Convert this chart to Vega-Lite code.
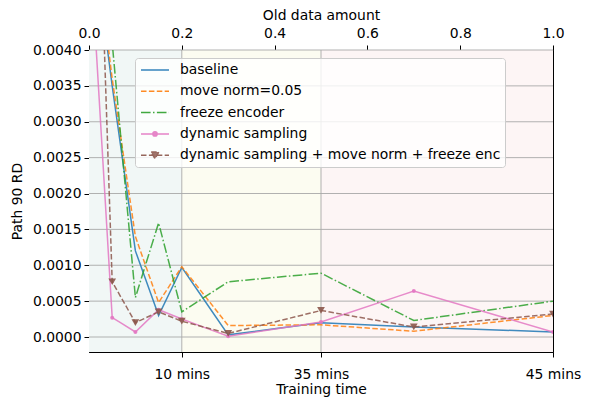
{
  "$schema": "https://vega.github.io/schema/vega-lite/v6.json",
  "width": 464,
  "height": 302,
  "autosize": {"type": "none"},
  "padding": {"left": 89, "top": 50, "right": 37, "bottom": 53},
  "config": {
    "font": "DejaVu Sans",
    "view": {"stroke": "black", "strokeWidth": 1},
    "axis": {
      "grid": false,
      "labelFont": "DejaVu Sans",
      "titleFont": "DejaVu Sans",
      "labelFontSize": 13.9,
      "titleFontSize": 13.9,
      "titleFontWeight": "normal",
      "labelColor": "black",
      "titleColor": "black",
      "tickColor": "black",
      "domainColor": "black",
      "tickSize": 5,
      "tickWidth": 1,
      "domainWidth": 1
    }
  },
  "datasets": {
    "series": [
      {"s": "baseline", "x": 0, "v": 0.0060},
      {"s": "baseline", "x": 0.05, "v": 0.0035},
      {"s": "baseline", "x": 0.1, "v": 0.0012},
      {"s": "baseline", "x": 0.15, "v": 0.0003},
      {"s": "baseline", "x": 0.2, "v": 0.00097},
      {"s": "baseline", "x": 0.3, "v": 0.00003},
      {"s": "baseline", "x": 0.5, "v": 0.0002},
      {"s": "baseline", "x": 0.7, "v": 0.00014},
      {"s": "baseline", "x": 1.0, "v": 0.00007},
      {"s": "move norm=0.05", "x": 0, "v": 0.0062},
      {"s": "move norm=0.05", "x": 0.05, "v": 0.0036},
      {"s": "move norm=0.05", "x": 0.1, "v": 0.0014},
      {"s": "move norm=0.05", "x": 0.15, "v": 0.00048},
      {"s": "move norm=0.05", "x": 0.2, "v": 0.00098},
      {"s": "move norm=0.05", "x": 0.3, "v": 0.00016},
      {"s": "move norm=0.05", "x": 0.5, "v": 0.00017},
      {"s": "move norm=0.05", "x": 0.7, "v": 0.00008},
      {"s": "move norm=0.05", "x": 1.0, "v": 0.0003},
      {"s": "freeze encoder", "x": 0, "v": 0.008},
      {"s": "freeze encoder", "x": 0.05, "v": 0.0041},
      {"s": "freeze encoder", "x": 0.1, "v": 0.00055},
      {"s": "freeze encoder", "x": 0.15, "v": 0.00159},
      {"s": "freeze encoder", "x": 0.2, "v": 0.00035},
      {"s": "freeze encoder", "x": 0.3, "v": 0.00077},
      {"s": "freeze encoder", "x": 0.5, "v": 0.00089},
      {"s": "freeze encoder", "x": 0.7, "v": 0.00023},
      {"s": "freeze encoder", "x": 1.0, "v": 0.0005},
      {"s": "dynamic sampling", "x": 0, "v": 0.0057},
      {"s": "dynamic sampling", "x": 0.05, "v": 0.00027},
      {"s": "dynamic sampling", "x": 0.1, "v": 0.00007},
      {"s": "dynamic sampling", "x": 0.15, "v": 0.00038},
      {"s": "dynamic sampling", "x": 0.2, "v": 0.00025},
      {"s": "dynamic sampling", "x": 0.3, "v": 0.00001},
      {"s": "dynamic sampling", "x": 0.5, "v": 0.00021},
      {"s": "dynamic sampling", "x": 0.7, "v": 0.00064},
      {"s": "dynamic sampling", "x": 1.0, "v": 0.00007},
      {"s": "dynamic sampling + move norm + freeze enc", "x": 0, "v": 0.0104},
      {"s": "dynamic sampling + move norm + freeze enc", "x": 0.05, "v": 0.00077},
      {"s": "dynamic sampling + move norm + freeze enc", "x": 0.1, "v": 0.0002},
      {"s": "dynamic sampling + move norm + freeze enc", "x": 0.15, "v": 0.00035},
      {"s": "dynamic sampling + move norm + freeze enc", "x": 0.2, "v": 0.00022},
      {"s": "dynamic sampling + move norm + freeze enc", "x": 0.3, "v": 0.00005},
      {"s": "dynamic sampling + move norm + freeze enc", "x": 0.5, "v": 0.00037},
      {"s": "dynamic sampling + move norm + freeze enc", "x": 0.7, "v": 0.00014},
      {"s": "dynamic sampling + move norm + freeze enc", "x": 1.0, "v": 0.00032}
    ],
    "bands": [
      {"x0": 0, "x1": 0.2, "band": "a"},
      {"x0": 0.2, "x1": 0.5, "band": "b"},
      {"x0": 0.5, "x1": 1.0, "band": "c"}
    ],
    "gridy": [
      {"gy": 0}, {"gy": 0.0005}, {"gy": 0.001}, {"gy": 0.0015}, {"gy": 0.002},
      {"gy": 0.0025}, {"gy": 0.003}, {"gy": 0.0035}, {"gy": 0.004}
    ],
    "gridx": [{"gx": 0.2}, {"gx": 0.5}]
  },
  "layer": [
    {
      "data": {"name": "series"},
      "transform": [{"filter": "false"}],
      "mark": {"type": "point", "filled": true, "strokeWidth": 1.5, "opacity": 0.9},
      "encoding": {
        "shape": {
          "field": "s", "type": "nominal",
          "scale": {
            "domain": ["baseline", "move norm=0.05", "freeze encoder", "dynamic sampling", "dynamic sampling + move norm + freeze enc"],
            "range": [
              "M-2,0H2",
              "M-2,0H2",
              "M-2,0H2",
              "M-2,0H2M0.3,0A0.3,0.3,0,1,1,-0.3,0A0.3,0.3,0,1,1,0.3,0Z",
              "M-2,0H2M-0.55,-0.45H0.55L0,0.5Z"
            ]
          },
          "legend": {"title": null}
        },
        "fill": {
          "field": "s", "type": "nominal",
          "scale": {
            "domain": ["baseline", "move norm=0.05", "freeze encoder", "dynamic sampling", "dynamic sampling + move norm + freeze enc"],
            "range": ["#1f77b4", "#ff7f0e", "#2ca02c", "#e377c2", "#8c564b"]
          },
          "legend": {
            "orient": "none",
            "legendX": 46,
            "legendY": 8,
            "title": null,
            "fillColor": "rgba(255,255,255,0.8)",
            "strokeColor": "#cccccc",
            "cornerRadius": 3,
            "padding": 4,
            "labelFont": "DejaVu Sans",
            "labelFontSize": 13.9,
            "labelColor": "black",
            "labelOffset": 17,
            "labelLimit": 400,
            "symbolSize": 196,
            "symbolOffset": 8,
            "symbolStrokeWidth": 1.5,
            "symbolOpacity": 0.9,
            "rowPadding": 6.3
          }
        },
        "stroke": {
          "field": "s", "type": "nominal",
          "scale": {
            "domain": ["baseline", "move norm=0.05", "freeze encoder", "dynamic sampling", "dynamic sampling + move norm + freeze enc"],
            "range": ["#1f77b4", "#ff7f0e", "#2ca02c", "#e377c2", "#8c564b"]
          },
          "legend": {"title": null}
        },
        "strokeDash": {
          "field": "s", "type": "nominal",
          "scale": {
            "domain": ["baseline", "move norm=0.05", "freeze encoder", "dynamic sampling", "dynamic sampling + move norm + freeze enc"],
            "range": [[100, 0], [5.5, 2.4], [9.6, 2.4, 1.5, 2.4], [100, 0], [5.5, 2.4]]
          },
          "legend": {"title": null}
        }
      }
    },
    {
      "data": {"name": "bands"},
      "transform": [{"filter": "datum.band == 'a'"}],
      "mark": {"type": "rect", "color": "#f1f7f6"},
      "encoding": {
        "x": {
          "field": "x0", "type": "quantitative",
          "scale": {"domain": [0, 1], "nice": false, "zero": false},
          "axis": {
            "orient": "bottom",
            "values": [0.2, 0.5, 1],
            "labelExpr": "datum.value < 0.3 ? '10 mins' : datum.value < 0.7 ? '35 mins' : '45 mins'",
            "title": "Training time",
            "labelFlush": false,
            "labelPadding": 10,
            "titlePadding": 2
          }
        },
        "x2": {"field": "x1"}
      }
    },
    {
      "data": {"name": "bands"},
      "transform": [{"filter": "datum.band == 'b'"}],
      "mark": {"type": "rect", "color": "#fcfcf1"},
      "encoding": {
        "x": {
          "field": "x0", "type": "quantitative",
          "scale": {"domain": [0, 1], "nice": false, "zero": false},
          "axis": null
        },
        "x2": {"field": "x1"}
      }
    },
    {
      "data": {"name": "bands"},
      "transform": [{"filter": "datum.band == 'c'"}],
      "mark": {"type": "rect", "color": "#fdf5f5"},
      "encoding": {
        "x": {
          "field": "x0", "type": "quantitative",
          "scale": {"domain": [0, 1], "nice": false, "zero": false},
          "axis": null
        },
        "x2": {"field": "x1"}
      }
    },
    {
      "data": {"name": "gridy"},
      "mark": {"type": "rule", "color": "#a8a8a8", "strokeWidth": 0.9},
      "encoding": {
        "y": {
          "field": "gy", "type": "quantitative",
          "scale": {"domain": [-0.000209, 0.004], "nice": false, "zero": false},
          "axis": {
            "values": [0, 0.0005, 0.001, 0.0015, 0.002, 0.0025, 0.003, 0.0035, 0.004],
            "format": ".4f", "title": "Path 90 RD", "titlePadding": 8, "labelPadding": 3
          }
        }
      }
    },
    {
      "data": {"name": "gridx"},
      "mark": {"type": "rule", "color": "#a8a8a8", "strokeWidth": 0.9},
      "encoding": {
        "x": {
          "field": "gx", "type": "quantitative",
          "scale": {"domain": [0, 1], "nice": false, "zero": false},
          "axis": null
        }
      }
    },
    {
      "data": {"name": "series"},
      "mark": {"type": "line", "strokeWidth": 1.5, "clip": true, "opacity": 0.85},
      "encoding": {
        "x": {
          "field": "x", "type": "quantitative",
          "scale": {"domain": [0, 1], "nice": false, "zero": false},
          "axis": {
            "orient": "top",
            "values": [0, 0.2, 0.4, 0.6, 0.8, 1],
            "format": ".1f",
            "title": "Old data amount",
            "labelFlush": false,
            "labelPadding": 5,
            "titlePadding": 4
          }
        },
        "y": {
          "field": "v", "type": "quantitative",
          "scale": {"domain": [-0.000209, 0.004], "nice": false, "zero": false},
          "axis": {
            "values": [0, 0.0005, 0.001, 0.0015, 0.002, 0.0025, 0.003, 0.0035, 0.004],
            "format": ".4f", "title": "Path 90 RD", "titlePadding": 8, "labelPadding": 3
          }
        },
        "color": {
          "field": "s", "type": "nominal",
          "scale": {
            "domain": ["baseline", "move norm=0.05", "freeze encoder", "dynamic sampling", "dynamic sampling + move norm + freeze enc"],
            "range": ["#1f77b4", "#ff7f0e", "#2ca02c", "#e377c2", "#8c564b"]
          },
          "legend": null
        },
        "strokeDash": {
          "field": "s", "type": "nominal",
          "legend": null
        }
      }
    },
    {
      "data": {"name": "series"},
      "transform": [{"filter": "datum.s == 'dynamic sampling'"}],
      "mark": {"type": "point", "filled": true, "clip": true, "opacity": 0.9, "shape": "circle", "size": 16},
      "encoding": {
        "x": {
          "field": "x", "type": "quantitative",
          "scale": {"domain": [0, 1], "nice": false, "zero": false},
          "axis": null
        },
        "y": {
          "field": "v", "type": "quantitative",
          "scale": {"domain": [-0.000209, 0.004], "nice": false, "zero": false},
          "axis": {
            "values": [0, 0.0005, 0.001, 0.0015, 0.002, 0.0025, 0.003, 0.0035, 0.004],
            "format": ".4f", "title": "Path 90 RD", "titlePadding": 8, "labelPadding": 3
          }
        },
        "color": {"field": "s", "type": "nominal", "legend": null}
      }
    },
    {
      "data": {"name": "series"},
      "transform": [{"filter": "datum.s == 'dynamic sampling + move norm + freeze enc'"}],
      "mark": {"type": "point", "filled": true, "clip": true, "opacity": 0.9, "shape": "triangle-down", "size": 60},
      "encoding": {
        "x": {
          "field": "x", "type": "quantitative",
          "scale": {"domain": [0, 1], "nice": false, "zero": false},
          "axis": null
        },
        "y": {
          "field": "v", "type": "quantitative",
          "scale": {"domain": [-0.000209, 0.004], "nice": false, "zero": false},
          "axis": {
            "values": [0, 0.0005, 0.001, 0.0015, 0.002, 0.0025, 0.003, 0.0035, 0.004],
            "format": ".4f", "title": "Path 90 RD", "titlePadding": 8, "labelPadding": 3
          }
        },
        "color": {"field": "s", "type": "nominal", "legend": null}
      }
    }
  ],
  "resolve": {"axis": {"x": "independent"}}
}
